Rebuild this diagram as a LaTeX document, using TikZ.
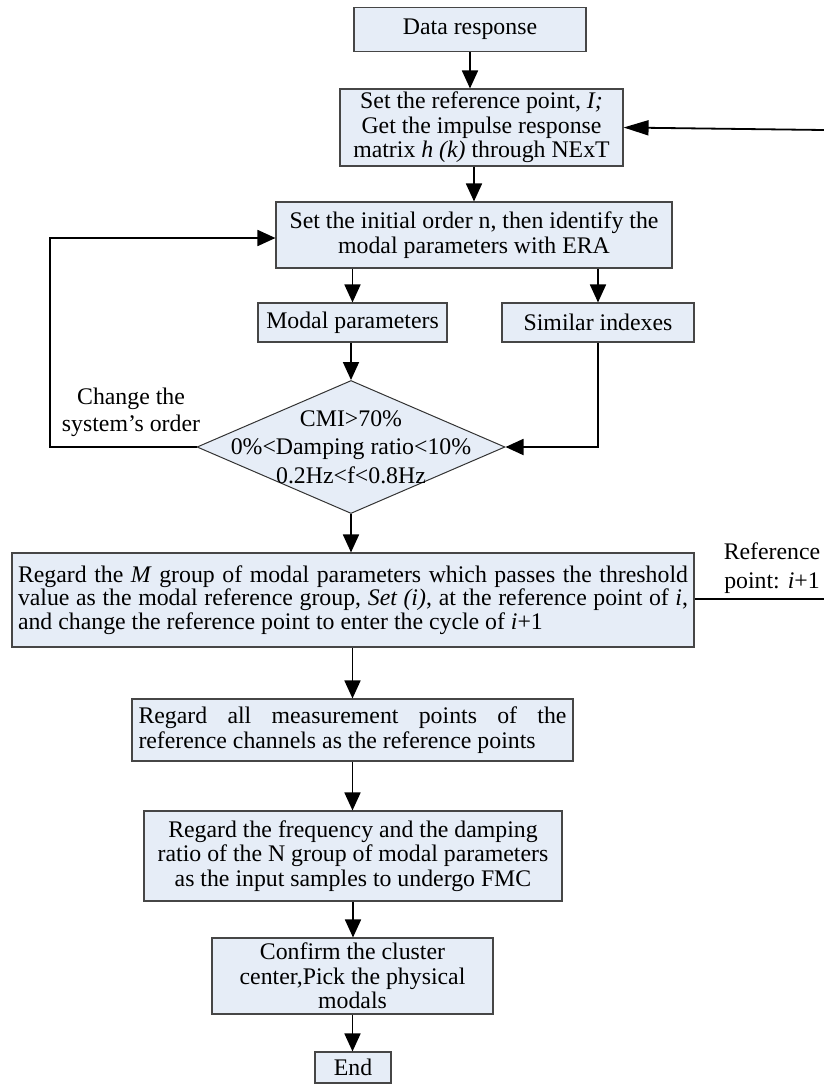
\documentclass[tikz,border=0pt]{standalone}
\usepackage{fontspec}
\setmainfont{Liberation Serif}
\usetikzlibrary{arrows.meta,shapes.geometric}
\definecolor{boxfill}{RGB}{230,237,247}
\definecolor{boxline}{RGB}{70,70,70}
\begin{document}
\begin{tikzpicture}[x=1pt,y=-1pt,
  txt/.style={font=\fontsize{23.8}{24.5}\selectfont},
  box/.style={txt, draw=boxline, line width=1.1pt, fill=boxfill, inner sep=0pt, align=center},
  arr/.style={-{Triangle[length=18pt,width=16pt]}, line width=1.8pt},
  arrlong/.style={-{Triangle[length=25pt,width=15pt]}, line width=1.8pt},
  ln/.style={line width=1.6pt}]
\useasboundingbox (0,0) rectangle (824,1085);

\node[box, minimum width=232pt, minimum height=44pt] (data) at (470,29.5) {Data response};
\node[box, minimum width=283pt, minimum height=77pt] (ref) at (481.5,127.5) {Set the reference point, \textit{I;}\\Get the impulse response\\matrix \textit{h (k)} through NExT};
\node[box, minimum width=396pt, minimum height=66pt] (era) at (474,235) {Set the initial order n, then identify the\\modal parameters with ERA};
\node[box, minimum width=189pt, minimum height=39pt] (mp) at (352.5,322.5) {Modal parameters};
\node[box, minimum width=192pt, minimum height=39pt] (si) at (598,322.5) {Similar indexes};
\node[diamond, draw=black!80, line width=1pt, fill=boxfill, minimum width=308pt, minimum height=133pt, inner sep=0pt] (dia) at (351,447) {};
\node[font=\fontsize{23.8}{28.5}\selectfont, align=center] (diat) at (dia.center) {CMI>70\%\\0\%<Damping ratio<10\%\\0.2Hz<f<0.8Hz};
\node[box, minimum width=682pt, minimum height=94pt, text width=670pt, align=justify, font=\fontsize{23.8}{23.5}\selectfont] (grp) at (353,600) {Regard the \textit{M} group of modal parameters which passes the threshold\linebreak value as the modal reference group, \textit{Set (i)}, at the reference point of \textit{i},\linebreak and change the reference point to enter the cycle of \textit{i}+1};
\node[box, minimum width=441pt, minimum height=62pt, text width=428pt, align=justify] (meas) at (352.5,730) {Regard all measurement points of the\linebreak reference channels as the reference points};
\node[box, minimum width=418pt, minimum height=90pt] (fmc) at (353,856) {Regard the frequency and the damping\\ratio of the N group of modal parameters\\as the input samples to undergo FMC};
\node[box, minimum width=281pt, minimum height=76pt] (conf) at (352.5,976) {Confirm the cluster\\center,Pick the physical\\modals};
\node[box, minimum width=76pt, minimum height=31pt] (endn) at (353,1067.5) {End};

\node[font=\fontsize{23.8}{27}\selectfont, align=center] (chg) at (131,412) {Change the\\system’s order};
\node[font=\fontsize{23.8}{29}\selectfont, align=center] (rpl) at (772,568) {Reference\\point: \textit{i}+1};

\coordinate (tr) at (824,130);
\coordinate (rp) at (824,599);
\coordinate (lp) at (50,238);

\draw[arr] (data.south) -- (data.south |- ref.north);
\draw[arrlong] (tr) -- (ref.east);
\draw[arr] (era.north |- ref.south) -- (era.north);
\draw[arr] (mp.north |- era.south) -- (mp.north);
\draw[arr] (si.north |- era.south) -- (si.north);
\draw[arr] (dia.north |- mp.south) -- (dia.north);
\draw[arr] (si.south) |- (dia.east);
\draw[arr] (dia.west) -| (lp) -- (lp -| era.west);
\draw[arr] (dia.south) -- (dia.south |- grp.north);
\draw[ln] (grp.east |- rp) -- (rp);
\draw[arr] (meas.north |- grp.south) -- (meas.north);
\draw[arr] (meas.south) -- (meas.south |- fmc.north);
\draw[arr] (fmc.south) -- (fmc.south |- conf.north);
\draw[arr] (conf.south) -- (conf.south |- endn.north);
\end{tikzpicture}
\end{document}
